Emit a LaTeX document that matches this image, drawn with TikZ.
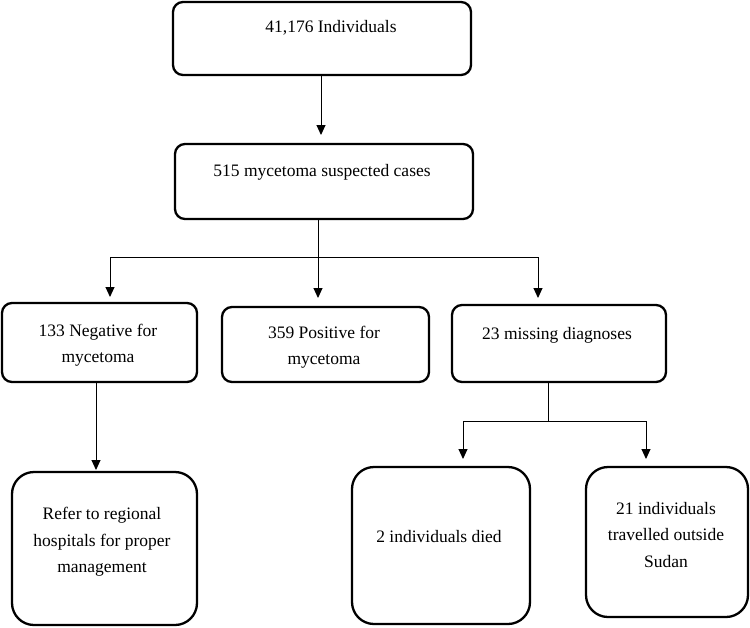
\documentclass[tikz,border=0pt]{standalone}
\usepackage{fontspec}
\setmainfont{Liberation Serif}
\usetikzlibrary{arrows.meta}

\tikzset{
  box/.style={draw, line width=2.3pt, rounded corners=10pt, inner sep=0pt},
  tallbox/.style={box, rounded corners=22pt},
  txt/.style={font=\fontsize{17.5}{26.5}\selectfont, align=center, inner sep=0pt},
  arr/.style={line width=1pt, -{Triangle[width=9pt,length=10pt]}},
  lin/.style={line width=1pt}
}

\begin{document}
\begin{tikzpicture}[x=1pt,y=-1pt]
  \useasboundingbox (0,0) rectangle (750,627);

  % boxes
  \node[box, minimum width=298pt, minimum height=73pt] (B1) at (322,38.5) {};
  \node[box, minimum width=298pt, minimum height=75pt] (B2) at (324,181.5) {};
  \node[box, minimum width=195pt, minimum height=79pt] (B3) at (99.5,342.5) {};
  \node[box, minimum width=207pt, minimum height=75pt] (B4) at (325.5,344.5) {};
  \node[box, minimum width=214pt, minimum height=77pt] (B5) at (559,343.5) {};
  \node[tallbox, minimum width=185pt, minimum height=153pt] (B6) at (104.5,548.5) {};
  \node[tallbox, minimum width=178pt, minimum height=157pt] (B7) at (441,545.5) {};
  \node[tallbox, minimum width=162pt, minimum height=150pt] (B8) at (667,542) {};

  % texts
  \node[txt] (T1) at (331,28) {41,176 Individuals};
  \node[txt] (T2) at (322,172) {515 mycetoma suspected cases};
  \node[txt] (T3) at (98,345) {133 Negative for\\ mycetoma};
  \node[txt] (T4) at (324,347) {359 Positive for\\ mycetoma};
  \node[txt] (T5) at (557,335) {23 missing diagnoses};
  \node[txt] (T6) at (102,542) {Refer to regional\\ hospitals for proper\\ management};
  \node[txt] (T7) at (439,537) {2 individuals died};
  \node[txt] (T8) at (666,535) {21 individuals\\ travelled outside\\ Sudan};

  % connectors
  \coordinate (A1) at (321,135);
  \coordinate (S) at (318,257);
  \coordinate (SL) at (110,257);
  \coordinate (SR) at (538,257);
  \coordinate (A3) at (110,297);
  \coordinate (A4) at (318,298);
  \coordinate (A5) at (538,298);
  \coordinate (A6) at (96,470);
  \coordinate (M) at (548,421);
  \coordinate (ML) at (463,421);
  \coordinate (MR) at (646,421);
  \coordinate (A7) at (463,459);
  \coordinate (A8) at (646,459);

  \draw[arr] (B1.south -| A1) -- (A1);
  \draw[lin] (B2.south -| S) -- (S);
  \draw[lin] (SL) -- (SR);
  \draw[arr] (SL) -- (A3);
  \draw[arr] (S) -- (A4);
  \draw[arr] (SR) -- (A5);
  \draw[arr] (B3.south -| A6) -- (A6);
  \draw[lin] (B5.south -| M) -- (M);
  \draw[lin] (ML) -- (MR);
  \draw[arr] (ML) -- (A7);
  \draw[arr] (MR) -- (A8);
\end{tikzpicture}
\end{document}
